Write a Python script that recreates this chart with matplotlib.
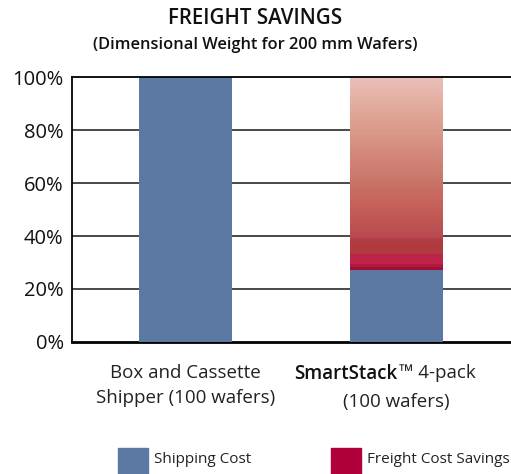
import numpy as np
import matplotlib
matplotlib.use("Agg")
import matplotlib.pyplot as plt
from matplotlib.colors import LinearSegmentedColormap
from matplotlib.patches import Rectangle

plt.rcParams['font.family'] = ['Open Sans', 'DejaVu Sans']

# Data
categories = ["Box and Cassette\nShipper (100 wafers)", "SmartStack\u2122 4-pack\n(100 wafers)"]
shipping_cost = [100, 27]
freight_savings = [0, 73]
ytick_values = [0, 20, 40, 60, 80, 100]
ytick_labels = ["0%", "20%", "40%", "60%", "80%", "100%"]

BLUE = '#5b79a3'
CRIMSON = '#b0003a'

# gradient used for the savings segment (bottom -> top)
savings_cmap = LinearSegmentedColormap.from_list('savings', [
    (0.000, '#a20d31'),
    (0.020, '#a20d31'),
    (0.026, '#bb2349'),
    (0.080, '#bb2349'),
    (0.086, '#b03a3e'),
    (0.155, '#b03a3e'),
    (0.162, '#b84850'),
    (0.220, '#bc5052'),
    (0.300, '#c25c57'),
    (0.364, '#c6645d'),
    (0.470, '#c9766a'),
    (0.570, '#d08376'),
    (0.726, '#da9a8a'),
    (0.830, '#e0a898'),
    (1.000, '#ecc0b9'),
])
N_BANDS = 60

fig = plt.figure(figsize=(5.11, 4.74), dpi=100)
ax = fig.add_axes([0.141, 0.2785, 0.859, 0.559])

x = np.arange(len(categories))
width = 0.441

ax.bar(x, shipping_cost, width=width, color=BLUE, zorder=3)

# savings bars drawn as a stack of thin bands to get the gradient
for i in range(len(categories)):
    if freight_savings[i] <= 0:
        continue
    step = freight_savings[i] / N_BANDS
    for k in range(N_BANDS):
        ax.bar(x[i], step * 1.02, bottom=shipping_cost[i] + k * step, width=width,
               color=savings_cmap((k + 0.5) / N_BANDS), linewidth=0, zorder=3)

ax.set_xlim(-0.538, 1.543)
ax.set_ylim(0, 100)

for v in ytick_values[1:-1]:
    ax.axhline(v, color='#3a3a3a', linewidth=1.3, zorder=1)

ax.set_yticks(ytick_values)
ax.set_yticklabels(ytick_labels, fontsize=14.5, color='#111111')
ax.tick_params(axis='y', length=0, pad=6)
ax.set_xticks([])

for side in ['left', 'top']:
    ax.spines[side].set_linewidth(1.3)
    ax.spines[side].set_color('black')
ax.spines['bottom'].set_linewidth(2)
ax.spines['right'].set_visible(False)
ax.spines['top'].set_zorder(4)

# category labels
ax.annotate(categories[0], xy=(x[0], 0), xycoords=('data', 'axes fraction'),
            xytext=(0, -16), textcoords='offset points', ha='center', va='top',
            fontsize=13.5, color='#222222', linespacing=1.5)

first, second = categories[1].split('\n')
bold_part, rest = first.split('\u2122')
ax.annotate(bold_part, xy=(x[1], 0), xycoords=('data', 'axes fraction'),
            xytext=(1, -16), textcoords='offset points', ha='right', va='top',
            fontsize=13.5, fontweight='semibold', color='#111111')
ax.annotate('\u2122' + rest, xy=(x[1], 0), xycoords=('data', 'axes fraction'),
            xytext=(2, -16), textcoords='offset points', ha='left', va='top',
            fontsize=13.5, color='#222222')
ax.annotate(second, xy=(x[1], 0), xycoords=('data', 'axes fraction'),
            xytext=(0, -36.5), textcoords='offset points', ha='center', va='top',
            fontsize=13.5, color='#222222')

# titles
fig.text(0.5, 0.962, "FREIGHT SAVINGS", ha='center', va='center',
         fontsize=14.8, fontweight='semibold', color='#111111')
fig.text(0.5, 0.905, "(Dimensional Weight for 200 mm Wafers)", ha='center', va='center',
         fontsize=11.8, fontweight='semibold', color='#111111')

# legend
fig.patches.append(Rectangle((118 / 511, 0), 30 / 511, 26 / 474,
                             transform=fig.transFigure, color=BLUE))
fig.text(154 / 511, 13 / 474 + 0.004, "Shipping Cost", ha='left', va='center',
         fontsize=11, color='#222222')
fig.patches.append(Rectangle((331 / 511, 0), 30 / 511, 26 / 474,
                             transform=fig.transFigure, color=CRIMSON))
fig.text(367 / 511, 13 / 474 + 0.004, "Freight Cost Savings", ha='left', va='center',
         fontsize=11, color='#222222')

fig.savefig("out.png", dpi=100)
